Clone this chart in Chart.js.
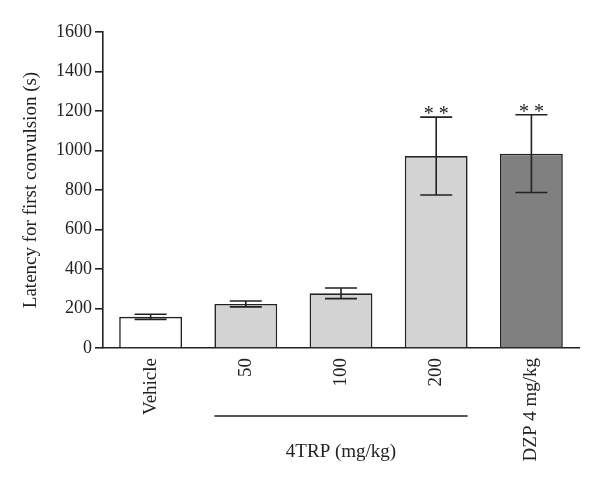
<!DOCTYPE html>
<html>
<head>
<meta charset="utf-8">
<script src="https://cdn.jsdelivr.net/npm/chart.js@4"></script>
<style>
  html, body { margin: 0; padding: 0; background: #fff; }
  #wrap { width: 600px; height: 484px; position: relative; }
</style>
</head>
<body>
<div id="wrap"><canvas id="chart"></canvas></div>
<script>
var categories = ['Vehicle', '50', '100', '200', 'DZP 4 mg/kg'];
var latency = [158, 223, 277, 972, 984];
var sem = [13, 15, 27, 197, 197];
var marks = ['', '', '', '**', '**'];
var barColors = ['#ffffff', '#d3d3d3', '#d3d3d3', '#d3d3d3', '#808080'];
var groupLabel = '4TRP (mg/kg)';
var groupFrom = 1, groupTo = 3;
var yTicks = [0, 200, 400, 600, 800, 1000, 1200, 1400, 1600];

var ink = '#222';
var serif = '"Liberation Serif", "DejaVu Serif", serif';

// error bars, significance marks and the group bracket under the axis
var extrasPlugin = {
    id: 'extras',
    afterDatasetsDraw: function (chart) {
        var ctx = chart.ctx;
        var y = chart.scales.y;
        var meta = chart.getDatasetMeta(0);
        ctx.save();
        ctx.strokeStyle = ink;
        ctx.lineWidth = 1.6;
        latency.forEach(function (v, i) {
            var cx = meta.data[i].x;
            var top = y.getPixelForValue(v + sem[i]);
            var bot = y.getPixelForValue(v - sem[i]);
            var cap = 16;
            ctx.beginPath();
            ctx.moveTo(cx, top); ctx.lineTo(cx, bot);
            ctx.moveTo(cx - cap, top); ctx.lineTo(cx + cap, top);
            ctx.moveTo(cx - cap, bot); ctx.lineTo(cx + cap, bot);
            ctx.stroke();
            if (marks[i]) {
                ctx.fillStyle = ink;
                ctx.font = '20px ' + serif;
                ctx.textAlign = 'center';
                ctx.textBaseline = 'alphabetic';
                ctx.fillText(marks[i].split('').join(' '), cx, top + 3);
            }
        });
        // bracket line below the tick labels
        var b0 = meta.data[groupFrom], b1 = meta.data[groupTo];
        var left = b0.x - b0.width / 2, right = b1.x + b1.width / 2;
        var ly = 416;
        ctx.beginPath();
        ctx.moveTo(left, ly); ctx.lineTo(right, ly);
        ctx.stroke();
        ctx.fillStyle = ink;
        ctx.font = '19px ' + serif;
        ctx.textAlign = 'center';
        ctx.textBaseline = 'middle';
        ctx.fillText(groupLabel, (left + right) / 2, 452);
        ctx.restore();
    }
};

var chart = new Chart(document.getElementById('chart'), {
    type: 'bar',
    data: {
        labels: categories,
        datasets: [{
            data: latency,
            backgroundColor: barColors,
            borderColor: ink,
            borderWidth: 1.6,
            categoryPercentage: 1,
            barPercentage: 0.66
        }]
    },
    options: {
        responsive: true,
        maintainAspectRatio: false,
        animation: false,
        layout: { padding: { top: 32, right: 21, left: 0, bottom: 0 } },
        plugins: {
            legend: { display: false },
            tooltip: { enabled: false }
        },
        scales: {
            x: {
                grid: { display: false },
                border: { display: true, color: ink, width: 1.6 },
                ticks: {
                    color: ink,
                    font: { family: serif, size: 19 },
                    minRotation: 90,
                    maxRotation: 90,
                    padding: 2
                },
                afterFit: function (s) { s.height = 136; }
            },
            y: {
                min: 0,
                max: 1600,
                afterBuildTicks: function (s) {
                    s.ticks = yTicks.map(function (v) { return { value: v }; });
                },
                grid: {
                    display: true,
                    drawOnChartArea: false,
                    drawTicks: true,
                    tickLength: 8,
                    color: ink,
                    lineWidth: 1.6
                },
                border: { display: true, color: ink, width: 1.6 },
                ticks: {
                    color: ink,
                    font: { family: serif, size: 18 },
                    padding: 3,
                    callback: function (v) { return String(v); }
                },
                title: {
                    display: true,
                    text: 'Latency for first convulsion (s)',
                    color: ink,
                    font: { family: serif, size: 19 },
                    padding: { top: 20, bottom: 0 }
                },
                afterFit: function (s) { s.width = 103; }
            }
        }
    },
    plugins: [extrasPlugin]
});
</script>
</body>
</html>
